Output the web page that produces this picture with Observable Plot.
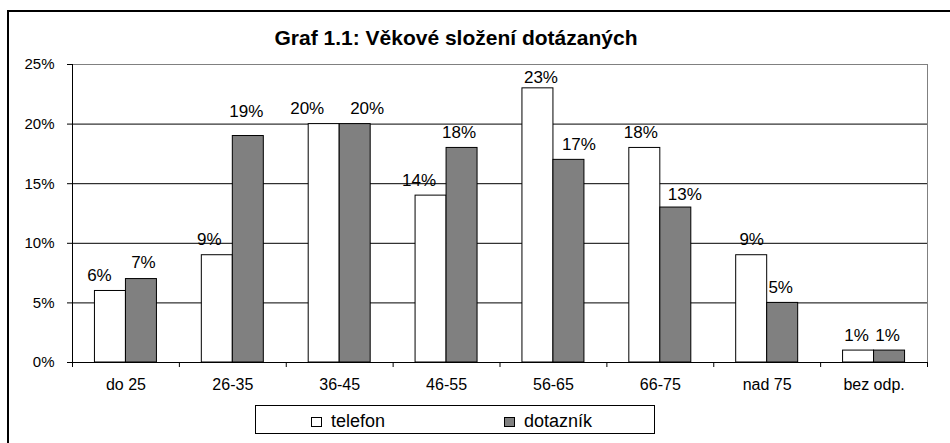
<!DOCTYPE html>
<html>
<head>
<meta charset="utf-8">
<script src="https://cdn.jsdelivr.net/npm/d3@7"></script>
<script src="https://cdn.jsdelivr.net/npm/@observablehq/plot@0.6"></script>
<style>
  body { margin: 0; background: #fff; }
  #wrap { position: relative; width: 950px; height: 443px; overflow: hidden; background: #fff;
          font-family: Arial, "Liberation Sans", sans-serif; color: #000; }
  #chart { position: absolute; left: 0; top: 0; }
  #border { position: absolute; left: 7px; top: 10px; width: 1000px; height: 1000px;
            border-left: 2px solid #000; border-top: 2px solid #000; }
  #title { position: absolute; left: 0; top: 27px; width: 912px; text-align: center;
           font-weight: bold; font-size: 21px; line-height: 21px; }
  #legend { position: absolute; left: 255px; top: 405px; width: 400px; height: 29px;
            box-sizing: border-box; border: 1px solid #000; background: #fff; }
  .sw { position: absolute; width: 11px; height: 10px; box-sizing: border-box; border: 1px solid #000; }
  .lt { position: absolute; font-size: 18px; line-height: 18px; white-space: nowrap; }
</style>
</head>
<body>
<div id="wrap">
  <div id="chart"></div>
  <div id="border"></div>
  <div id="title"></div>
  <div id="legend"></div>
</div>
<script>
const title = "Graf 1.1: Věkové složení dotázaných";
const categories = ["do 25", "26-35", "36-45", "46-55", "56-65", "66-75", "nad 75", "bez odp."];
const seriesNames = ["telefon", "dotazník"];
const telefon = [6, 9, 20, 14, 23, 18, 9, 1];
const dotaznik = [7, 19, 20, 18, 17, 13, 5, 1];
const yTicks = [0, 5, 10, 15, 20, 25];
const seriesColors = ["#ffffff", "#808080"];

// label placement nudges (pixels), as Excel placed the value labels
const telefonLabelDx = [-11, -8, -17, -12, 3, -4, 0, -2];
const dotaznikLabelDx = [2, -2, 12, -3, 10, 9, -2, -2];
const telefonLabelDy = [0, 0, 0, 0, 5, 0, 0, 0];
const dotaznikLabelDy = [-1, -9, 0, 0, 0, 2, 0, 0];

const rows = categories.flatMap((c, i) => [
  {cat: c, i, series: seriesNames[0], k: 0, value: telefon[i], ndx: telefonLabelDx[i], ndy: telefonLabelDy[i]},
  {cat: c, i, series: seriesNames[1], k: 1, value: dotaznik[i], ndx: dotaznikLabelDx[i], ndy: dotaznikLabelDy[i]}
]);

// bar layout inside each category slot (fractions of the slot)
const barStart = 0.21, barWidth = 0.29;
const left = d => d.i + barStart + d.k * barWidth;
const right = d => d.i + barStart + (d.k + 1) * barWidth;
const mid = d => d.i + barStart + (d.k + 0.5) * barWidth;

const n = categories.length;
const labelMarks = rows.map(r =>
  Plot.text([r], {x: mid, y: "value", text: d => d.value + "%", dx: r.ndx, dy: -10 + r.ndy,
                  lineAnchor: "bottom", fontSize: 17, fill: "#000"})
);

const chart = Plot.plot({
  width: 950,
  height: 443,
  marginLeft: 72,
  marginRight: 23,
  marginTop: 64,
  marginBottom: 81,
  style: {background: "transparent", fontFamily: "Arial, 'Liberation Sans', sans-serif", color: "#000", overflow: "visible"},
  x: {type: "linear", domain: [0, n]},
  y: {domain: [0, 25]},
  color: {domain: seriesNames, range: seriesColors},
  marks: [
    Plot.gridY({ticks: yTicks.filter(t => t > 0 && t < 25), stroke: "#000", strokeOpacity: 1}),
    Plot.ruleY([25], {stroke: "#808080"}),
    Plot.ruleX([n], {stroke: "#808080"}),
    Plot.rectY(rows, {x1: left, x2: right, y1: 0, y2: "value", fill: "series", stroke: "#000", strokeWidth: 1}),
    ...labelMarks,
    Plot.ruleX([0], {stroke: "#000"}),
    Plot.ruleY([0], {stroke: "#000"}),
    Plot.axisY({ticks: yTicks, tickFormat: d => d + "%", tickSize: 5, tickPadding: 13, fontSize: 15, label: null, stroke: "#000"}),
    Plot.axisX({ticks: d3.range(n + 1), tickFormat: () => "", tickSize: 5, label: null, stroke: "#000"}),
    Plot.axisX({ticks: categories.map((_, i) => i + 0.5), tickFormat: v => categories[Math.floor(v)], tickSize: 0, tickPadding: 16, fontSize: 16, label: null})
  ]
});
document.getElementById("chart").appendChild(chart);
document.getElementById("title").textContent = title;

const legend = document.getElementById("legend");
const legendPos = [{sx: 55, tx: 75}, {sx: 248, tx: 268}];
seriesNames.forEach((s, j) => {
  const sw = document.createElement("div");
  sw.className = "sw";
  sw.style.left = legendPos[j].sx + "px";
  sw.style.top = "11px";
  sw.style.background = seriesColors[j];
  legend.appendChild(sw);
  const t = document.createElement("div");
  t.className = "lt";
  t.style.left = legendPos[j].tx + "px";
  t.style.top = "6px";
  t.textContent = s;
  legend.appendChild(t);
});
</script>
</body>
</html>
